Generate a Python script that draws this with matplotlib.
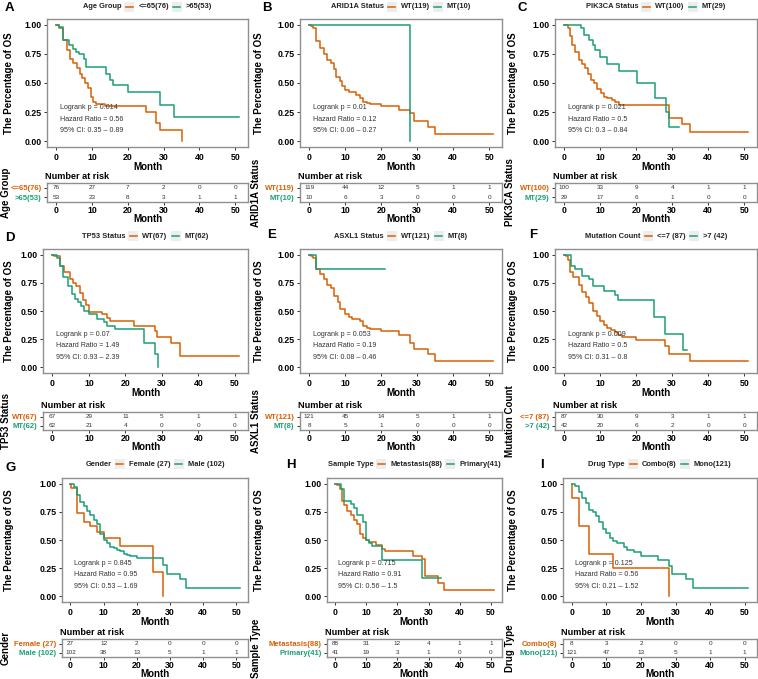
import numpy as np
import matplotlib
matplotlib.use("Agg")
import matplotlib.pyplot as plt
from matplotlib.patches import Rectangle
from matplotlib.lines import Line2D

plt.rcParams['font.family'] = ['Liberation Sans', 'DejaVu Sans']

# ============================================================
# Datos (curvas KM: tiempos y supervivencia)
# ============================================================
ORANGE = '#D95F02'
GREEN = '#1B9E77'
MONTHS = [0, 10, 20, 30, 40, 50]

# --- A: Age Group ---
A_title = 'Age Group'
A_labels = ['<=65(76)', '>65(53)']
A_o_t = [0, 0.9, 1.8, 3.0, 3.9, 4.7, 5.7, 6.6, 7.3, 8.0, 8.8, 9.6, 10.3, 11, 13.7, 25, 28, 29, 35]
A_o_s = [1, 0.97, 0.87, 0.78, 0.71, 0.67, 0.63, 0.58, 0.54, 0.50, 0.46, 0.38, 0.34, 0.32, 0.30, 0.25, 0.16, 0.10, 0.0]
A_g_t = [0, 0.9, 1.8, 3.6, 4.6, 5.5, 6.4, 7.8, 8.4, 14, 14.9, 16, 20, 29, 33, 51]
A_g_s = [1, 0.98, 0.87, 0.83, 0.79, 0.77, 0.75, 0.71, 0.64, 0.58, 0.53, 0.48, 0.42, 0.31, 0.21, 0.21]
A_risk_o = [76, 27, 7, 2, 0, 0]
A_risk_g = [53, 23, 8, 3, 1, 1]
A_stats = ['Logrank p = 0.014', 'Hazard Ratio = 0.56', '95% CI: 0.35 \u2013 0.89']

# --- B: ARID1A Status ---
B_title = 'ARID1A Status'
B_labels = ['WT(119)', 'MT(10)']
B_o_t = [0, 0.5, 1, 2, 3, 4, 5, 6, 7, 7.5, 8.5, 9, 10, 11, 13, 14, 15, 16, 17, 20, 25, 28, 29, 33, 35, 51]
B_o_s = [1, 0.99, 0.97, 0.86, 0.80, 0.75, 0.70, 0.67, 0.62, 0.55, 0.52, 0.47, 0.44, 0.42, 0.40, 0.37, 0.34, 0.33, 0.32, 0.30, 0.27, 0.24, 0.17, 0.12, 0.06, 0.06]
B_g_t = [0, 28]
B_g_s = [1, 0.0]
B_risk_o = [119, 44, 12, 5, 1, 1]
B_risk_g = [10, 6, 3, 0, 0, 0]
B_stats = ['Logrank p = 0.01', 'Hazard Ratio = 0.12', '95% CI: 0.06 \u2013 0.27']

# --- C: PIK3CA Status ---
C_title = 'PIK3CA Status'
C_labels = ['WT(100)', 'MT(29)']
C_o_t = [0, 1, 1.5, 2.2, 3.1, 4, 5, 5.9, 6.7, 7.4, 8.3, 9.2, 10.1, 11, 12, 13.3, 14.2, 15.3, 29, 32.6, 35, 51]
C_o_s = [1, 0.97, 0.90, 0.83, 0.77, 0.70, 0.66, 0.63, 0.58, 0.53, 0.50, 0.45, 0.41, 0.38, 0.37, 0.35, 0.34, 0.31, 0.20, 0.15, 0.08, 0.08]
C_g_t = [0, 4.7, 5.6, 7, 7.9, 8.6, 10, 11.8, 15.1, 20.1, 25.1, 28.3, 29.2, 31.9]
C_g_s = [1, 0.97, 0.91, 0.87, 0.83, 0.78, 0.72, 0.66, 0.60, 0.50, 0.37, 0.25, 0.12, 0.12]
C_risk_o = [100, 33, 9, 4, 1, 1]
C_risk_g = [29, 17, 6, 1, 0, 0]
C_stats = ['Logrank p = 0.021', 'Hazard Ratio = 0.5', '95% CI: 0.3 \u2013 0.84']

# --- D: TP53 Status ---
D_title = 'TP53 Status'
D_labels = ['WT(67)', 'MT(62)']
D_o_t = [0, 0.5, 2.2, 3.1, 4.8, 5.7, 6.6, 7.5, 8.4, 9.2, 10.1, 13.6, 15, 15.8, 22.4, 28.2, 28.6, 32.6, 35, 51]
D_o_s = [1, 0.99, 0.90, 0.85, 0.78, 0.75, 0.72, 0.66, 0.60, 0.55, 0.49, 0.47, 0.44, 0.41, 0.37, 0.32, 0.27, 0.22, 0.10, 0.10]
D_g_t = [0, 1.3, 2.2, 2.9, 4.4, 5.3, 6.2, 7, 7.9, 8.8, 10.1, 12.3, 14.1, 15, 17.2, 25.1, 28.2, 29]
D_g_s = [1, 0.97, 0.90, 0.80, 0.72, 0.65, 0.61, 0.58, 0.54, 0.50, 0.47, 0.43, 0.40, 0.37, 0.34, 0.22, 0.12, 0.0]
D_risk_o = [67, 29, 11, 5, 1, 1]
D_risk_g = [62, 21, 4, 0, 0, 0]
D_stats = ['Logrank p = 0.07', 'Hazard Ratio = 1.49', '95% CI: 0.93 \u2013 2.39']

# --- E: ASXL1 Status ---
E_title = 'ASXL1 Status'
E_labels = ['WT(121)', 'MT(8)']
E_o_t = [0, 0.5, 1, 2, 3, 4, 5, 6, 7, 8, 8.5, 10, 11, 12, 14, 15, 16, 17, 20, 25, 28, 29, 33, 35, 51]
E_o_s = [1, 0.99, 0.97, 0.87, 0.83, 0.78, 0.73, 0.70, 0.63, 0.58, 0.52, 0.47, 0.45, 0.43, 0.41, 0.37, 0.35, 0.34, 0.32, 0.29, 0.22, 0.16, 0.12, 0.06, 0.06]
E_g_t = [0, 2, 21]
E_g_s = [1, 0.875, 0.875]
E_risk_o = [121, 45, 14, 5, 1, 1]
E_risk_g = [8, 5, 1, 0, 0, 0]
E_stats = ['Logrank p = 0.053', 'Hazard Ratio = 0.19', '95% CI: 0.08 \u2013 0.46']

# --- F: Mutation Count ---
F_title = 'Mutation Count'
F_labels = ['<=7 (87)', '>7 (42)']
F_o_t = [0, 0.5, 1, 1.5, 2.5, 4, 5, 6, 7, 8, 9, 10, 11, 12, 13, 14, 15, 16, 20, 28, 29, 35, 51]
F_o_s = [1, 0.99, 0.95, 0.85, 0.80, 0.73, 0.67, 0.62, 0.57, 0.50, 0.46, 0.41, 0.38, 0.35, 0.33, 0.31, 0.29, 0.27, 0.24, 0.19, 0.12, 0.06, 0.06]
F_g_t = [0, 2, 3, 5, 7, 8, 11, 14, 15, 25, 28, 33, 34]
F_g_s = [1, 0.90, 0.87, 0.81, 0.78, 0.72, 0.68, 0.64, 0.60, 0.45, 0.30, 0.15, 0.15]
F_risk_o = [87, 30, 9, 3, 1, 1]
F_risk_g = [42, 20, 6, 2, 0, 0]
F_stats = ['Logrank p = 0.009', 'Hazard Ratio = 0.5', '95% CI: 0.31 \u2013 0.8']

# --- G: Gender ---
G_title = 'Gender'
G_labels = ['Female (27)', 'Male (102)']
G_o_t = [0, 0.1, 2, 4, 6, 8, 10, 15, 25, 28]
G_o_s = [1, 0.96, 0.74, 0.66, 0.62, 0.57, 0.52, 0.45, 0.22, 0.0]
G_g_t = [0, 1, 2, 3, 4, 5, 6, 7, 8, 9, 10, 11, 12, 13, 14, 15, 16, 17, 18, 20, 28, 29, 33, 35, 51]
G_g_s = [1, 0.97, 0.90, 0.84, 0.80, 0.76, 0.72, 0.68, 0.64, 0.55, 0.50, 0.47, 0.44, 0.43, 0.41, 0.40, 0.38, 0.37, 0.36, 0.34, 0.28, 0.20, 0.15, 0.07, 0.07]
G_risk_o = [27, 12, 2, 0, 0, 0]
G_risk_g = [102, 38, 13, 5, 1, 1]
G_stats = ['Logrank p = 0.845', 'Hazard Ratio = 0.95', '95% CI: 0.53 \u2013 1.69']

# --- H: Sample Type ---
H_title = 'Sample Type'
H_labels = ['Metastasis(88)', 'Primary(41)']
H_o_t = [0, 0.5, 1.5, 2.2, 3, 4, 5, 6, 7, 8, 9, 10, 11, 13, 15, 16, 25, 28, 29, 33, 35, 51]
H_o_s = [1, 0.99, 0.95, 0.85, 0.81, 0.76, 0.72, 0.68, 0.64, 0.55, 0.52, 0.50, 0.48, 0.46, 0.42, 0.40, 0.36, 0.33, 0.18, 0.12, 0.06, 0.06]
H_g_t = [0, 2, 3, 5, 6, 7, 9, 10, 11, 12, 15, 28, 34]
H_g_s = [1, 0.95, 0.85, 0.82, 0.78, 0.72, 0.66, 0.50, 0.47, 0.45, 0.32, 0.16, 0.16]
H_risk_o = [88, 31, 12, 4, 1, 1]
H_risk_g = [41, 19, 3, 1, 0, 0]
H_stats = ['Logrank p = 0.715', 'Hazard Ratio = 0.91', '95% CI: 0.56 \u2013 1.5']

# --- I: Drug Type ---
I_title = 'Drug Type'
I_labels = ['Combo(8)', 'Mono(121)']
I_o_t = [0, 0.1, 2, 5, 12, 28]
I_o_s = [1, 0.875, 0.625, 0.375, 0.25, 0.0]
I_g_t = [0, 1, 2, 3, 4, 5, 6, 7, 8, 9, 10, 11, 12, 13, 15, 16, 18, 20, 25, 28, 29, 33, 35, 51]
I_g_s = [1, 0.98, 0.93, 0.87, 0.83, 0.77, 0.75, 0.71, 0.66, 0.60, 0.56, 0.52, 0.49, 0.47, 0.44, 0.41, 0.39, 0.36, 0.32, 0.27, 0.20, 0.15, 0.07, 0.07]
I_risk_o = [8, 3, 2, 0, 0, 0]
I_risk_g = [121, 47, 13, 5, 1, 1]
I_stats = ['Logrank p = 0.125', 'Hazard Ratio = 0.56', '95% CI: 0.21 \u2013 1.52']

PANELS = [
    ('A', A_title, A_labels, (A_o_t, A_o_s), (A_g_t, A_g_s), A_risk_o, A_risk_g, A_stats),
    ('B', B_title, B_labels, (B_o_t, B_o_s), (B_g_t, B_g_s), B_risk_o, B_risk_g, B_stats),
    ('C', C_title, C_labels, (C_o_t, C_o_s), (C_g_t, C_g_s), C_risk_o, C_risk_g, C_stats),
    ('D', D_title, D_labels, (D_o_t, D_o_s), (D_g_t, D_g_s), D_risk_o, D_risk_g, D_stats),
    ('E', E_title, E_labels, (E_o_t, E_o_s), (E_g_t, E_g_s), E_risk_o, E_risk_g, E_stats),
    ('F', F_title, F_labels, (F_o_t, F_o_s), (F_g_t, F_g_s), F_risk_o, F_risk_g, F_stats),
    ('G', G_title, G_labels, (G_o_t, G_o_s), (G_g_t, G_g_s), G_risk_o, G_risk_g, G_stats),
    ('H', H_title, H_labels, (H_o_t, H_o_s), (H_g_t, H_g_s), H_risk_o, H_risk_g, H_stats),
    ('I', I_title, I_labels, (I_o_t, I_o_s), (I_g_t, I_g_s), I_risk_o, I_risk_g, I_stats),
]

# ============================================================
# Layout en píxeles (medido sobre la figura original)
# ============================================================
W, H = 758, 679
fig = plt.figure(figsize=(W / 100, H / 100), dpi=100)
renderer = fig.canvas.get_renderer()

# (x izquierda, x derecha) de cada panel
PANEL_X = {'A': (47, 248), 'B': (300, 502), 'C': (555, 757),
           'D': (43, 248), 'E': (300, 502), 'F': (555, 757),
           'G': (62, 248), 'H': (327, 502), 'I': (563, 757)}
ROW_TOP = [19, 249, 478]
PLOT_H = [128, 124, 124]
RISK_TOP = [183, 412, 639]
RISK_H = [19, 18, 18]
LETTER_POS = {'A': (5, 8), 'B': (262, 8), 'C': (517, 8),
              'D': (5, 238), 'E': (267, 235), 'F': (529, 235),
              'G': (5, 468), 'H': (286, 465), 'I': (540, 465)}
LEG_Y = [7, 236, 464]
YLAB_X = [9, 259, 513]
BORDER = '#8f8f8f'
XLIM = (-2.55, 53.55)


def rect(x, y, w, h):
    return [x / W, 1 - (y + h) / H, w / W, h / H]


def fx(x):
    return x / W


def fy(y):
    return 1 - y / H


def style_axes(ax):
    for sp in ax.spines.values():
        sp.set_color(BORDER)
        sp.set_linewidth(1.0)
    ax.tick_params(length=2.5, width=0.7, color='#333333', pad=1.5, labelsize=6.3)
    for lab in ax.get_xticklabels() + ax.get_yticklabels():
        lab.set_fontweight('bold')


def draw_legend(cx, cy, title, labels):
    fs = 5.4
    items = []
    t = fig.text(0, fy(cy), title, fontsize=fs, fontweight='bold', va='center', color='#222222')
    items.append(('text', t, t.get_window_extent(renderer).width))
    for lab, col in zip(labels, [ORANGE, GREEN]):
        items.append(('key', col, 11))
        tt = fig.text(0, fy(cy), lab, fontsize=fs, fontweight='bold', va='center', color='#222222')
        items.append(('text', tt, tt.get_window_extent(renderer).width))
    gap = 3
    total = sum(w for _, _, w in items) + gap * (len(items) - 1)
    x = cx - total / 2
    for kind, obj, w in items:
        if kind == 'text':
            obj.set_x(fx(x))
        else:
            fig.patches.append(Rectangle((fx(x), fy(cy + 5)), 10 / W, 10 / H, transform=fig.transFigure,
                                         facecolor='#EDEDED', edgecolor='none'))
            fig.lines.append(Line2D([fx(x + 1.5), fx(x + 8.5)], [fy(cy), fy(cy)], transform=fig.transFigure,
                                    color=obj, lw=1.1))
        x += w + gap


for i, (letter, title, labels, cur_o, cur_g, risk_o, risk_g, stats) in enumerate(PANELS):
    r, c = divmod(i, 3)
    x0, x1 = PANEL_X[letter]
    pw = x1 - x0

    # --- curva de supervivencia ---
    ax = fig.add_axes(rect(x0, ROW_TOP[r], pw, PLOT_H[r]))
    ax.step(cur_o[0], cur_o[1], where='post', color=ORANGE, lw=1.1)
    ax.step(cur_g[0], cur_g[1], where='post', color=GREEN, lw=1.1)
    ax.set_xlim(*XLIM)
    ax.set_ylim(-0.05, 1.05)
    ax.set_xticks(MONTHS)
    ax.set_yticks([0, 0.25, 0.5, 0.75, 1.0])
    ax.set_yticklabels(['0.00', '0.25', '0.50', '0.75', '1.00'])
    style_axes(ax)
    ax.set_xlabel('Month', fontsize=7, fontweight='bold', labelpad=0)
    for s, yy in zip(stats, [0.29, 0.19, 0.09]):
        ax.text(1.0, yy, s, fontsize=5.1, color='#333333', va='center', ha='left')
    fig.text(fx(YLAB_X[c]), fy(ROW_TOP[r] + PLOT_H[r] / 2), 'The Percentage of OS', rotation=90,
             fontsize=7, fontweight='bold', ha='center', va='center')

    # --- leyenda y letra ---
    draw_legend((x0 + x1) / 2, LEG_Y[r], title, labels)
    lx, ly = LETTER_POS[letter]
    fig.text(fx(lx), fy(ly), letter, fontsize=9.5, fontweight='bold', ha='left', va='center')

    # --- tabla de número en riesgo ---
    rt = fig.add_axes(rect(x0, RISK_TOP[r], pw, RISK_H[r]))
    rt.set_xlim(*XLIM)
    rt.set_ylim(0.5, 2.5)
    for m, a, b in zip(MONTHS, risk_o, risk_g):
        rt.text(m, 2, str(a), fontsize=4.6, color='#333333', ha='center', va='center')
        rt.text(m, 1, str(b), fontsize=4.6, color='#333333', ha='center', va='center')
    rt.set_xticks(MONTHS)
    rt.set_yticks([2, 1])
    rt.set_yticklabels(labels)
    style_axes(rt)
    rt.tick_params(axis='x', pad=0.5)
    for lab, col in zip(rt.get_yticklabels(), [ORANGE, GREEN]):
        lab.set_color(col)
        lab.set_fontsize(5.5)
    rt.set_xlabel('Month', fontsize=7, fontweight='bold', labelpad=-1)
    rt.set_title('Number at risk', fontsize=6.6, fontweight='bold', loc='left', pad=3, x=-0.01)
    fig.text(fx(YLAB_X[c] - 3), fy(RISK_TOP[r] + RISK_H[r] / 2), title, rotation=90,
             fontsize=7, fontweight='bold', ha='center', va='center')

fig.savefig('out.png', dpi=100)
